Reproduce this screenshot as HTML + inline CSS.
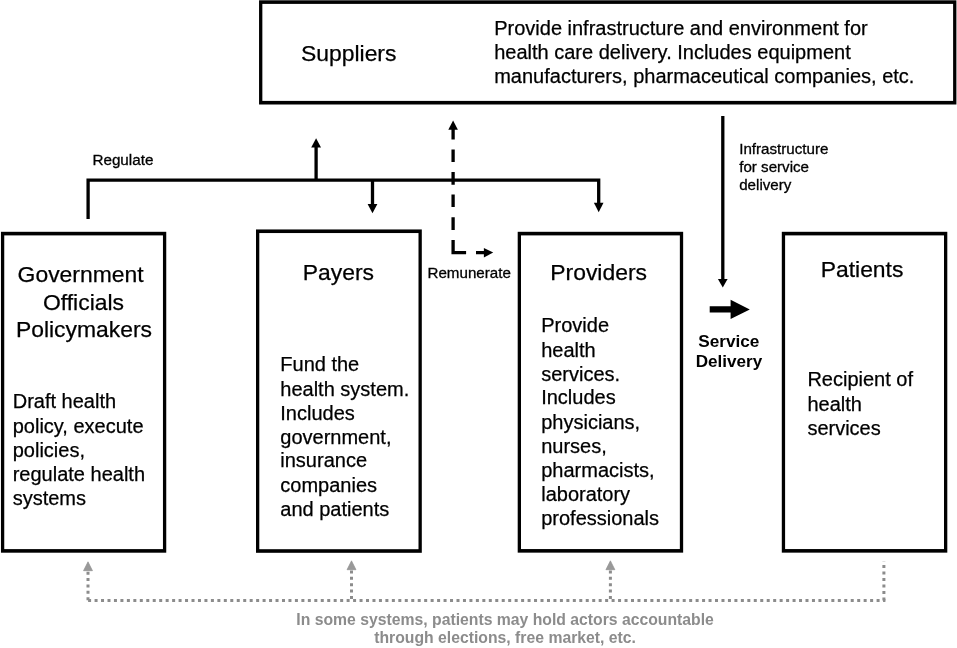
<!DOCTYPE html>
<html>
<head>
<meta charset="utf-8">
<title>Health system actors</title>
<style>
html,body{margin:0;padding:0;background:#fff;}
body{width:957px;height:648px;overflow:hidden;font-family:"Liberation Sans",sans-serif;}
svg{display:block;will-change:transform;}
text{font-family:"Liberation Sans",sans-serif;fill:#000;}
.t{font-size:22.9px;stroke:#000;stroke-width:0.25px;}
.b{font-size:20px;stroke:#000;stroke-width:0.25px;}
.s{font-size:15.15px;stroke:#000;stroke-width:0.3px;}
.box{fill:#fff;stroke:#000;stroke-width:3;}
.ln{fill:none;stroke:#000;stroke-width:3.3;}
.g{fill:none;stroke:#999;stroke-width:3;stroke-dasharray:3.2 3.3;}
</style>
</head>
<body>
<svg width="957" height="648" viewBox="0 0 957 648">
<rect x="0" y="0" width="957" height="648" fill="#fff"/>

<!-- boxes -->
<rect x="259.05" y="0.30" width="697.35" height="104.20" fill="#000"/><rect x="262.35" y="3.90" width="690.75" height="97.00" fill="#fff"/>
<rect x="0.95" y="231.80" width="165.30" height="320.90" fill="#000"/><rect x="4.25" y="235.40" width="158.70" height="313.70" fill="#fff"/>
<rect x="256.00" y="229.45" width="165.80" height="323.35" fill="#000"/><rect x="259.30" y="233.05" width="159.20" height="316.15" fill="#fff"/>
<rect x="517.70" y="231.80" width="165.45" height="320.85" fill="#000"/><rect x="521.00" y="235.40" width="158.85" height="313.65" fill="#fff"/>
<rect x="781.80" y="231.80" width="165.50" height="320.85" fill="#000"/><rect x="785.10" y="235.40" width="158.90" height="313.65" fill="#fff"/>

<!-- suppliers text -->
<text class="t" x="301" y="61">Suppliers</text>
<text class="b" x="494.2" y="35">Provide infrastructure and environment for</text>
<text class="b" x="494.2" y="59">health care delivery. Includes equipment</text>
<text class="b" x="494.2" y="83">manufacturers, pharmaceutical companies, etc.</text>

<!-- government -->
<text class="t" x="80.6" y="282" text-anchor="middle">Government</text>
<text class="t" x="83.5" y="310" text-anchor="middle">Officials</text>
<text class="t" x="84" y="337" text-anchor="middle">Policymakers</text>
<text class="b" x="12.7" y="408">Draft health</text>
<text class="b" x="12.7" y="433">policy, execute</text>
<text class="b" x="12.7" y="457">policies,</text>
<text class="b" x="12.7" y="481">regulate health</text>
<text class="b" x="12.7" y="505">systems</text>

<!-- payers -->
<text class="t" x="302.8" y="280">Payers</text>
<text class="b" x="280.3" y="371">Fund the</text>
<text class="b" x="280.3" y="396">health system.</text>
<text class="b" x="280.3" y="420">Includes</text>
<text class="b" x="280.3" y="444">government,</text>
<text class="b" x="280.3" y="467">insurance</text>
<text class="b" x="280.3" y="492">companies</text>
<text class="b" x="280.3" y="516">and patients</text>

<!-- providers -->
<text class="t" x="550.3" y="280">Providers</text>
<text class="b" x="541.2" y="332">Provide</text>
<text class="b" x="541.2" y="357">health</text>
<text class="b" x="541.2" y="381">services.</text>
<text class="b" x="541.2" y="404">Includes</text>
<text class="b" x="541.2" y="429">physicians,</text>
<text class="b" x="541.2" y="453">nurses,</text>
<text class="b" x="541.2" y="477">pharmacists,</text>
<text class="b" x="541.2" y="501">laboratory</text>
<text class="b" x="541.2" y="525">professionals</text>

<!-- patients -->
<text class="t" x="820.7" y="277">Patients</text>
<text class="b" x="807.4" y="386">Recipient of</text>
<text class="b" x="807.4" y="411">health</text>
<text class="b" x="807.4" y="435">services</text>

<!-- regulate lines -->
<path class="ln" d="M88.1 218.9 V180.1 H598.7 V204"/>
<path d="M593.9 202.8 H603.5 L598.7 212.2 Z" fill="#000"/>
<path class="ln" d="M316.1 180.1 V146"/>
<path d="M311.2 147.5 H321 L316.1 138.2 Z" fill="#000"/>
<path class="ln" d="M372.5 180.1 V205"/>
<path d="M367.6 203.9 H377.4 L372.5 213.2 Z" fill="#000"/>
<text class="s" x="92.4" y="165" style="font-size:15.25px">Regulate</text>

<!-- remunerate dashed -->
<path class="ln" d="M453.1 128 V139.4 M453.1 149.4 V162.1 M453.1 172 V184.8 M453.1 194.5 V207 M453.1 217.3 V230 M453.1 240 V252.6 H466.1 M476 252.6 H485"/>
<path d="M448.3 129.7 H457.9 L453.1 120.4 Z" fill="#000"/>
<path d="M483.9 247.9 V257.4 L493.2 252.6 Z" fill="#000"/>
<text class="s" x="427.5" y="278">Remunerate</text>

<!-- infrastructure -->
<path class="ln" d="M722.8 116 V280"/>
<path d="M717.9 279.1 H727.6 L722.8 287.6 Z" fill="#000"/>
<text class="s" x="739.2" y="154">Infrastructure</text>
<text class="s" x="739.2" y="172">for service</text>
<text class="s" x="739.2" y="190">delivery</text>

<!-- service delivery -->
<path d="M709.7 306.2 H730.6 V299.8 L749.8 309.4 L730.6 318.9 V312.6 H709.7 Z" fill="#000"/>
<text x="728.8" y="347" text-anchor="middle" font-size="17.2" font-weight="bold">Service</text>
<text x="729" y="367" text-anchor="middle" font-size="17.1" font-weight="bold">Delivery</text>

<!-- gray dotted -->
<g fill="none" stroke="#8c8c8c" stroke-width="3">
<path stroke-dasharray="3 3.463" d="M88.1 600.6 H885.4"/>
<path stroke-dasharray="3 3.37" d="M88 600.2 V570"/>
<path stroke-dasharray="3 3.4" d="M351.5 599 V569"/>
<path stroke-dasharray="3 3.4" d="M610.4 599 V569"/>
<path stroke-dasharray="3 3.48" d="M883.9 600.5 V561.3"/>
</g>
<path d="M83.5 570.7 H92.5 L88 561.8 Z" fill="#999" stroke="#8c8c8c" stroke-width="0.6"/>
<path d="M347 569.7 H356 L351.5 560.8 Z" fill="#999" stroke="#8c8c8c" stroke-width="0.6"/>
<path d="M605.9 569.7 H614.9 L610.4 560.8 Z" fill="#999" stroke="#8c8c8c" stroke-width="0.6"/>
<text x="505.1" y="625" text-anchor="middle" font-size="15.75" font-weight="bold" style="fill:#8c8c8c">In some systems, patients may hold actors accountable</text>
<text x="505.1" y="643" text-anchor="middle" font-size="15.75" font-weight="bold" style="fill:#8c8c8c">through elections, free market, etc.</text>
</svg>
</body>
</html>
